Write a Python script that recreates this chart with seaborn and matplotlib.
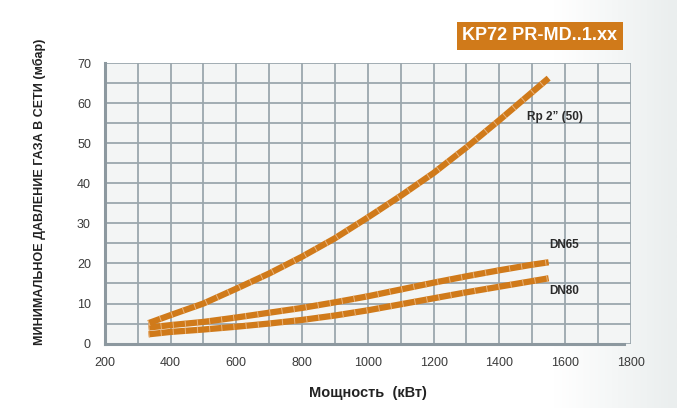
import numpy as np
import pandas as pd
import matplotlib
matplotlib.use("Agg")
import matplotlib.pyplot as plt
import seaborn as sns

# Данные
power = [333, 400, 500, 600, 700, 800, 900, 1000, 1100, 1200, 1300, 1400, 1500, 1550]
press_rp2 = [5.1, 7.1, 10.0, 13.7, 17.5, 21.7, 26.3, 31.5, 36.9, 42.6, 49.0, 55.8, 62.8, 66.3]
press_dn65 = [4.0, 4.6, 5.4, 6.5, 7.7, 8.9, 10.3, 11.8, 13.5, 15.2, 16.8, 18.3, 19.7, 20.3]
press_dn80 = [2.3, 2.9, 3.5, 4.2, 5.0, 5.9, 7.0, 8.3, 9.8, 11.3, 12.8, 14.2, 15.6, 16.3]

series_names = ['Rp 2” (50)', 'DN65', 'DN80']
x_ticks = [200, 400, 600, 800, 1000, 1200, 1400, 1600, 1800]
y_ticks = [0, 10, 20, 30, 40, 50, 60, 70]

df = pd.concat([
    pd.DataFrame({'power': power, 'pressure': press_rp2, 'series': series_names[0]}),
    pd.DataFrame({'power': power, 'pressure': press_dn65, 'series': series_names[1]}),
    pd.DataFrame({'power': power, 'pressure': press_dn80, 'series': series_names[2]}),
])

sns.set_style("white")
plt.rcParams['font.family'] = ['Liberation Sans', 'DejaVu Sans']

orange = '#d07a1a'
grid_col = '#9ba7ad'
spine_col = '#8c989f'
text_col = '#3a3a3a'

fig = plt.figure(figsize=(6.77, 4.08), dpi=100)

# лёгкий градиент фона справа
bg = fig.add_axes([0, 0, 1, 1], zorder=-10)
grad = np.linspace(0, 1, 300)
grad = np.clip((grad - 0.82) / 0.18, 0, 1)[None, :]
bg.imshow(grad, aspect='auto', cmap=matplotlib.colors.LinearSegmentedColormap.from_list(
    'g', ['#ffffff', '#eaeeee']), extent=[0, 1, 0, 1])
bg.axis('off')

ax = fig.add_axes([0.1548, 0.158, 0.777, 0.6868])
ax.set_facecolor('#f3f5f5')

for name in series_names:
    sub = df[df['series'] == name]
    sns.lineplot(data=sub, x='power', y='pressure', ax=ax, color=orange,
                 linewidth=4.5, solid_capstyle='butt', solid_joinstyle='round',
                 zorder=3, legend=False)
    ax.plot(sub['power'], sub['pressure'], color='#eab57e', linewidth=4.5,
            dashes=(0.15, 1.8), dash_capstyle='butt', zorder=4)

ax.set_xlim(200, 1800)
ax.set_ylim(0, 70)
ax.set_xticks(x_ticks)
ax.set_yticks(y_ticks)
ax.set_xticks(np.arange(200, 1801, 100), minor=True)
ax.set_yticks(np.arange(0, 71, 5), minor=True)
ax.grid(True, which='both', color=grid_col, linewidth=1.3, zorder=1)
ax.set_axisbelow(True)

for s in ['top', 'right']:
    ax.spines[s].set_visible(False)
for s in ['left', 'bottom']:
    ax.spines[s].set_color(spine_col)
    ax.spines[s].set_linewidth(2.2)
ax.spines['bottom'].set_bounds(200, 1780)

ax.tick_params(axis='both', which='major', direction='out', length=4,
               width=1.2, color=spine_col, labelsize=9, labelcolor=text_col, pad=6)
ax.tick_params(axis='both', which='minor', length=0)

ax.set_xlabel('Мощность  (кВт)', fontsize=10.5, fontweight='bold', color='#222222', labelpad=12)
ax.set_ylabel('МИНИМАЛЬНОЕ ДАВЛЕНИЕ ГАЗА В СЕТИ (мбар)', fontsize=9, fontweight='bold',
              color='#222222')
ax.yaxis.set_label_coords(-0.112, 0.54)

ax.text(1484, 56.5, series_names[0], fontsize=8.5, fontweight='bold', color='#2a2a2a', va='center')
ax.text(1552, 24.6, series_names[1], fontsize=8.5, fontweight='bold', color='#2a2a2a', va='center')
ax.text(1552, 13.1, series_names[2], fontsize=8.5, fontweight='bold', color='#2a2a2a', va='center')

fig.text(0.683, 0.912, 'KP72 PR-MD..1.xx', fontsize=13, fontweight='bold', color='white',
         va='center', ha='left',
         bbox=dict(boxstyle='square,pad=0.32', facecolor='#d07a1a', edgecolor='none'))

fig.savefig('out.png', dpi=100)
